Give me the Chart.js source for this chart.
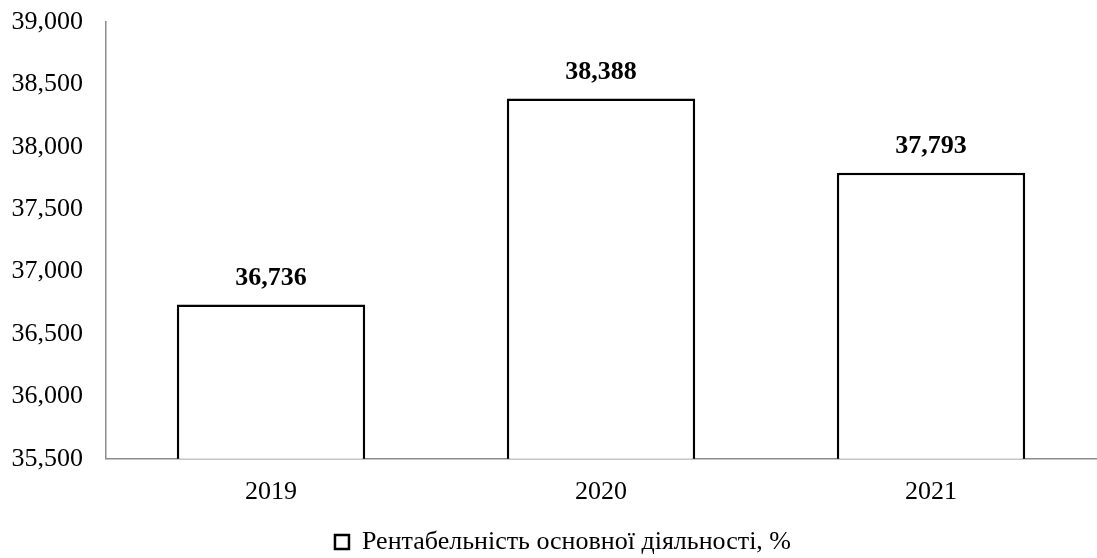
<!DOCTYPE html>
<html>
<head>
<meta charset="utf-8">
<script src="https://cdn.jsdelivr.net/npm/chart.js@4/dist/chart.umd.min.js"></script>
<style>
  html, body { margin: 0; padding: 0; background: #fff; }
  #wrap { width: 1097px; height: 558px; }
</style>
</head>
<body>
<div id="wrap"><canvas id="bar"></canvas></div>
<script>
var years = ['2019', '2020', '2021'];
var profitability = [36.736, 38.388, 37.793];
var seriesName = 'Рентабельність основної діяльності, %';
var yMin = 35.5, yMax = 39, yStep = 0.5;

var serif = "'Liberation Serif', 'Times New Roman', serif";

// numbers are shown with a decimal comma and three digits
function fmt(v) {
    return v.toFixed(3).replace('.', ',');
}

// bold value above each bar
var valueLabels = {
    id: 'valueLabels',
    afterDatasetsDraw: function(chart) {
        var ctx = chart.ctx;
        var meta = chart.getDatasetMeta(0);
        ctx.save();
        ctx.font = 'bold 26px ' + serif;
        ctx.fillStyle = '#000';
        ctx.textAlign = 'center';
        ctx.textBaseline = 'middle';
        meta.data.forEach(function(bar, i) {
            ctx.fillText(fmt(profitability[i]), bar.x, bar.y - 26);
        });
        ctx.restore();
    }
};

// nudge the legend a little right and down
var legendShift = {
    id: 'legendShift',
    afterLayout: function(chart) {
        var lg = chart.legend;
        lg.left += 15;
        lg.right += 15;
        lg.top += 10;
        lg.bottom += 10;
    }
};

var ctx = document.getElementById('bar').getContext('2d');
var chart = new Chart(ctx, {
    type: 'bar',
    data: {
        labels: years,
        datasets: [{
            label: seriesName,
            data: profitability,
            backgroundColor: '#fff',
            borderColor: '#000',
            borderWidth: 2.5,
            barPercentage: 0.571,
            categoryPercentage: 1
        }]
    },
    options: {
        responsive: true,
        maintainAspectRatio: false,
        animation: false,
        layout: { padding: { top: 22, left: 0, right: 1, bottom: 3 } },
        scales: {
            x: {
                grid: { display: false, drawTicks: false },
                border: { color: '#8c8c8c', width: 1.5 },
                ticks: {
                    color: '#000',
                    font: { family: serif, size: 26 },
                    padding: 18
                },
                afterFit: function(scale) {
                    scale.height -= 7;
                }
            },
            y: {
                min: yMin,
                max: yMax,
                grid: { display: false, drawTicks: false },
                border: { color: '#8c8c8c', width: 1.5 },
                ticks: {
                    stepSize: yStep,
                    color: '#000',
                    font: { family: serif, size: 26 },
                    padding: 23,
                    callback: function(v) { return fmt(v); }
                },
                afterFit: function(scale) {
                    scale.width = 106;
                    scale.paddingTop = 0;
                    scale.paddingBottom = 0;
                }
            }
        },
        plugins: {
            legend: {
                position: 'bottom',
                labels: {
                    color: '#000',
                    font: { family: serif, size: 26 },
                    boxWidth: 14,
                    boxHeight: 14,
                    padding: 0,
                    generateLabels: function() {
                        return [{
                            text: seriesName,
                            fillStyle: '#fff',
                            strokeStyle: '#000',
                            lineWidth: 2.5,
                            datasetIndex: 0
                        }];
                    }
                }
            },
            tooltip: { enabled: false }
        }
    },
    plugins: [valueLabels, legendShift]
});
</script>
</body>
</html>
